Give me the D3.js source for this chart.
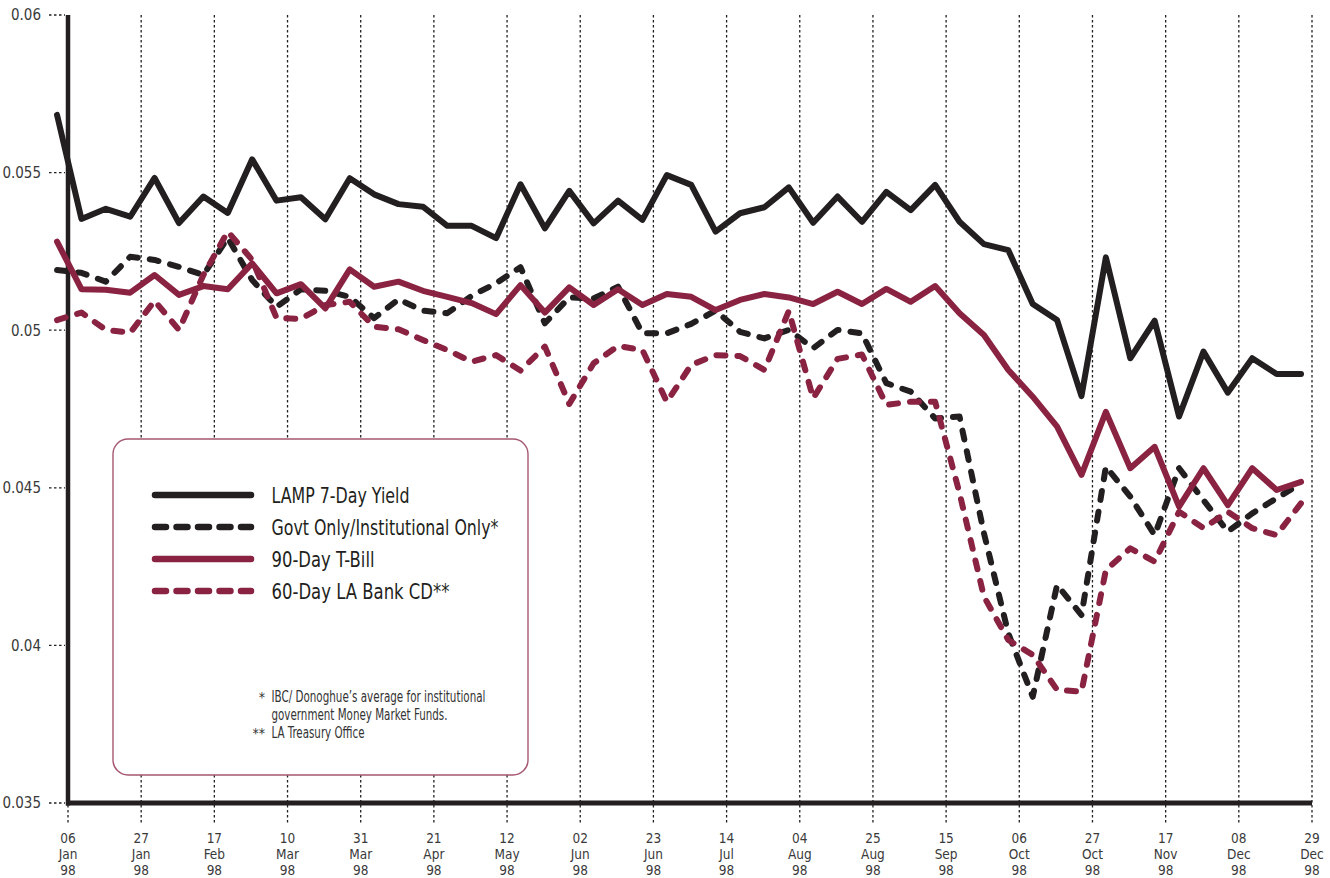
<!DOCTYPE html>
<html>
<head>
<meta charset="utf-8">
<script src="https://cdn.jsdelivr.net/npm/d3@7/dist/d3.min.js"></script>
<style>
  html, body { margin: 0; padding: 0; background: #ffffff; }
  svg { display: block; }
  text { font-family: "Liberation Sans Narrow", "DejaVu Sans Condensed", "Roboto", sans-serif; }
</style>
</head>
<body>
<svg id="chart" width="1330" height="878"></svg>
<script>
// ---------------- DATA ----------------
const tickDays   = ["06","27","17","10","31","21","12","02","23","14","04","25","15","06","27","17","08","29"];
const tickMonths = ["Jan","Jan","Feb","Mar","Mar","Apr","May","Jun","Jun","Jul","Aug","Aug","Sep","Oct","Oct","Nov","Dec","Dec"];
const tickYears  = ["98","98","98","98","98","98","98","98","98","98","98","98","98","98","98","98","98","98"];

const yTicks = [0.035, 0.04, 0.045, 0.05, 0.055, 0.06];
const yTickLabels = ["0.035", "0.04", "0.045", "0.05", "0.055", "0.06"];

// weekly observations, 52 weeks of 1998
const lampYield = [
  0.05683, 0.05353, 0.05385, 0.05360, 0.05483, 0.05340, 0.05424, 0.05372, 0.05542, 0.05411,
  0.05422, 0.05352, 0.05482, 0.05431, 0.05400, 0.05392, 0.05331, 0.05331, 0.05292, 0.05463,
  0.05323, 0.05442, 0.05339, 0.05411, 0.05350, 0.05492, 0.05461, 0.05313, 0.05371, 0.05390,
  0.05453, 0.05341, 0.05424, 0.05344, 0.05439, 0.05381, 0.05461, 0.05344, 0.05273, 0.05254,
  0.05083, 0.05032, 0.04791, 0.05231, 0.04911, 0.05030, 0.04726, 0.04932, 0.04802, 0.04911,
  0.04861, 0.04861
];
const govtOnly = [
  0.05191, 0.05182, 0.05154, 0.05233, 0.05223, 0.05201, 0.05175, 0.05293, 0.05159, 0.05074,
  0.05130, 0.05125, 0.05106, 0.05038, 0.05098, 0.05062, 0.05054, 0.05109, 0.05149, 0.05200,
  0.05022, 0.05104, 0.05101, 0.05138, 0.04990, 0.04990, 0.05020, 0.05062, 0.04995, 0.04974,
  0.05001, 0.04943, 0.05001, 0.04990, 0.04832, 0.04805, 0.04720, 0.04726, 0.04356, 0.04038,
  0.03837, 0.04192, 0.04096, 0.04567, 0.04472, 0.04350, 0.04562, 0.04461, 0.04361, 0.04419,
  0.04467, 0.04514
];
const tBill90 = [
  0.05281, 0.05130, 0.05128, 0.05119, 0.05175, 0.05112, 0.05140, 0.05130, 0.05212, 0.05117,
  0.05146, 0.05069, 0.05193, 0.05138, 0.05154, 0.05125, 0.05106, 0.05086, 0.05051, 0.05143,
  0.05056, 0.05136, 0.05080, 0.05130, 0.05080, 0.05115, 0.05106, 0.05064, 0.05096, 0.05115,
  0.05104, 0.05083, 0.05122, 0.05083, 0.05131, 0.05090, 0.05140, 0.05054, 0.04985, 0.04874,
  0.04789, 0.04694, 0.04541, 0.04741, 0.04562, 0.04630, 0.04440, 0.04562, 0.04445, 0.04562,
  0.04493, 0.04519
];
const bankCD60 = [
  0.05032, 0.05056, 0.05001, 0.04992, 0.05093, 0.05001, 0.05175, 0.05313, 0.05223, 0.05039,
  0.05036, 0.05080, 0.05090, 0.05011, 0.05003, 0.04969, 0.04937, 0.04900, 0.04921, 0.04872,
  0.04948, 0.04766, 0.04895, 0.04950, 0.04937, 0.04773, 0.04890, 0.04921, 0.04918, 0.04874,
  0.05061, 0.04784, 0.04909, 0.04923, 0.04763, 0.04773, 0.04773, 0.04483, 0.04155, 0.04017,
  0.03970, 0.03859, 0.03853, 0.04239, 0.04308, 0.04266, 0.04424, 0.04372, 0.04424, 0.04372,
  0.04350, 0.04451
];

const seriesNames = ["LAMP 7-Day Yield", "Govt Only/Institutional Only*", "90-Day T-Bill", "60-Day LA Bank CD**"];
const footnotes = [
  ["*", "IBC/ Donoghue\u2019s average for institutional"],
  ["", "government Money Market Funds."],
  ["**", "LA Treasury Office"]
];

// ---------------- STYLE / LAYOUT ----------------
const BLACK = "#231f20";
const MAROON = "#8a2341";
const plot = { left: 68, right: 1312, top: 15, bottom: 803 };
const dataOffsetWeeks = -0.45;   // observations fall a little before the tick dates

const svg = d3.select("#chart");

const xWeek = d3.scaleLinear().domain([0, 51]).range([plot.left, plot.right]);
const y = d3.scaleLinear().domain([0.035, 0.06]).range([plot.bottom, plot.top]);
const tickWeeks = tickDays.map((d, i) => i * 3);

// vertical dotted grid lines (extend below axis as ticks)
svg.append("g").selectAll("line").data(tickWeeks).join("line")
  .attr("x1", d => xWeek(d)).attr("x2", d => xWeek(d))
  .attr("y1", plot.top).attr("y2", plot.bottom + 20)
  .attr("stroke", BLACK).attr("stroke-width", 1.3)
  .attr("stroke-dasharray", "2.5,2.5");

// y ticks (short dotted)
svg.append("g").selectAll("line").data(yTicks).join("line")
  .attr("x1", plot.left - 19).attr("x2", plot.left - 3)
  .attr("y1", d => y(d)).attr("y2", d => y(d))
  .attr("stroke", BLACK).attr("stroke-width", 1.3)
  .attr("stroke-dasharray", "2.5,2.5");

svg.append("g").selectAll("text").data(yTicks).join("text")
  .attr("x", plot.left - 27).attr("y", d => y(d))
  .attr("dy", "0.36em")
  .attr("text-anchor", "end")
  .attr("font-size", 15)
  .attr("fill", "#3a3a3a")
  .text((d, i) => yTickLabels[i]);

// x tick labels: three separate lines
const xLabelRows = [
  { labels: tickDays, y: 842.5 },
  { labels: tickMonths, y: 858.5 },
  { labels: tickYears, y: 874.5 }
];
xLabelRows.forEach(row => {
  svg.append("g").selectAll("text").data(tickWeeks).join("text")
    .attr("x", d => xWeek(d)).attr("y", row.y)
    .attr("text-anchor", "middle")
    .attr("font-size", 13.5)
    .attr("fill", "#3a3a3a")
    .text((d, i) => row.labels[i]);
});

// axes (thick)
svg.append("line")
  .attr("x1", plot.left).attr("x2", plot.left)
  .attr("y1", plot.top).attr("y2", plot.bottom + 2.5)
  .attr("stroke", BLACK).attr("stroke-width", 4.5);
svg.append("line")
  .attr("x1", plot.left - 2).attr("x2", plot.right)
  .attr("y1", plot.bottom).attr("y2", plot.bottom)
  .attr("stroke", BLACK).attr("stroke-width", 5);

// series lines
const line = d3.line()
  .x((d, i) => xWeek(i + dataOffsetWeeks))
  .y(d => y(d));

const series = [
  { values: lampYield, color: BLACK, dash: null },
  { values: govtOnly, color: BLACK, dash: "9,12" },
  { values: tBill90, color: MAROON, dash: null },
  { values: bankCD60, color: MAROON, dash: "9,12" }
];

svg.append("g").selectAll("path").data(series).join("path")
  .attr("d", d => line(d.values))
  .attr("fill", "none")
  .attr("stroke", d => d.color)
  .attr("stroke-width", 6)
  .attr("stroke-linejoin", "round")
  .attr("stroke-linecap", "round")
  .attr("stroke-dasharray", d => d.dash);

// legend box
const lg = svg.append("g");
lg.append("rect")
  .attr("x", 113).attr("y", 439)
  .attr("width", 415).attr("height", 336)
  .attr("rx", 15).attr("ry", 15)
  .attr("fill", "#ffffff")
  .attr("stroke", "#a5586f").attr("stroke-width", 1.4);

const legendWidths = [138, 227, 103, 178];
const legendRows = lg.selectAll("g.row").data(series).join("g")
  .attr("class", "row")
  .attr("transform", (d, i) => `translate(0, ${495 + i * 32})`);
legendRows.append("line")
  .attr("x1", 155).attr("x2", 251)
  .attr("y1", 0).attr("y2", 0)
  .attr("stroke", d => d.color)
  .attr("stroke-width", 6.5)
  .attr("stroke-linecap", "round")
  .attr("stroke-dasharray", d => d.dash ? "11,10.5" : null);
legendRows.append("text")
  .attr("x", 271.5).attr("y", 8)
  .attr("font-size", 21)
  .attr("fill", BLACK)
  .attr("textLength", (d, i) => legendWidths[i])
  .attr("lengthAdjust", "spacingAndGlyphs")
  .text((d, i) => seriesNames[i]);

const footWidths = [214, 176, 93];
const fn = lg.selectAll("g.fn").data(footnotes).join("g")
  .attr("class", "fn")
  .attr("transform", (d, i) => `translate(0, ${701.5 + i * 18})`);
fn.append("text")
  .attr("x", 265).attr("y", 0)
  .attr("text-anchor", "end")
  .attr("font-size", 14)
  .attr("fill", "#333333")
  .text(d => d[0]);
fn.append("text")
  .attr("x", 271.5).attr("y", 0)
  .attr("font-size", 15)
  .attr("fill", "#333333")
  .attr("textLength", (d, i) => footWidths[i])
  .attr("lengthAdjust", "spacingAndGlyphs")
  .text(d => d[1]);
</script>
</body>
</html>
